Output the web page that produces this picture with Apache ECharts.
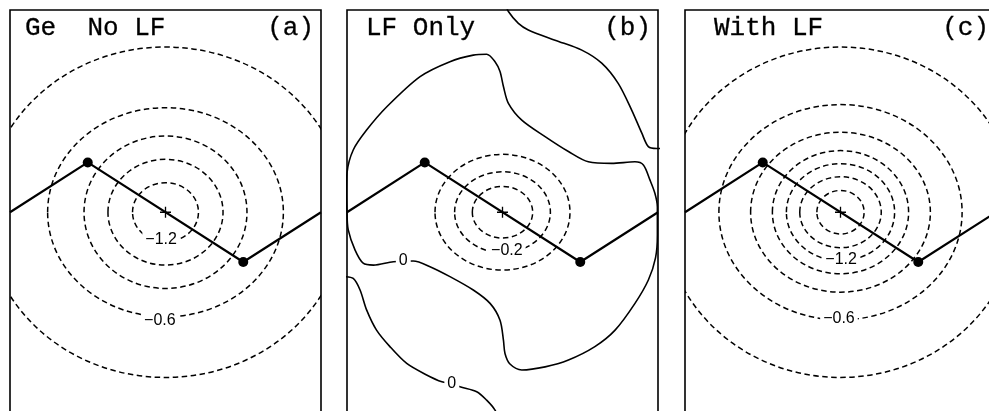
<!DOCTYPE html>
<html>
<head>
<meta charset="utf-8">
<script src="https://cdn.jsdelivr.net/npm/echarts@6/dist/echarts.min.js"></script>
<style>
  html, body { margin: 0; padding: 0; background: #fff; }
  #chart { width: 989px; height: 411px; }
</style>
</head>
<body>
<div id="chart"></div>
<script>
// titles of the three panels
const panelNames = ['Ge  No LF', 'LF Only', 'With LF'];
const panelTags = ['(a)', '(b)', '(c)'];

// fault trace, same in every panel, and the two stations on it
const traceX = [-5, -2.5, 2.5, 5];
const traceY = [0, 1.6, -1.6, 0];
const stationX = [-2.5, 2.5];
const stationY = [1.6, -1.6];

// (a) Ge, no LF : dashed contours (level, semi-axes)
const levelsA = [-0.4, -0.6, -0.8, -1.0, -1.2];
const rxA = [5.79, 3.79, 2.62, 1.85, 1.06];
const ryA = [5.31, 3.36, 2.45, 1.70, 0.95];
const labelsA = ['−1.2', '−0.6'];
const labelXA = [-0.14, -0.18];
const labelYA = [-0.89, -3.47];

// (b) LF only : dashed contours
const levelsB = [-0.1, -0.2, -0.3];
const rxB = [2.17, 1.54, 0.97];
const ryB = [1.86, 1.30, 0.83];
const labelsB = ['−0.2', '0', '0'];
const labelXB = [0.14, -3.19, -1.63];
const labelYB = [-1.22, -1.54, -5.50];

// (b) zero contour, closed loop
const zeroLoopB = [
  [-5.0, 0], [-4.96, -0.57], [-4.74, -1.22], [-4.48, -1.64], [-4.15, -1.70],
  [-3.51, -1.59], [-2.87, -1.57], [-2.33, -1.75], [-1.69, -2.07], [-0.94, -2.50],
  [-0.40, -2.93], [-0.08, -3.47], [0.03, -4.11], [0.08, -4.54], [0.24, -4.88],
  [0.62, -5.07], [1.37, -4.97], [2.12, -4.75], [2.97, -4.32], [3.62, -3.79],
  [4.26, -2.93], [4.69, -2.18], [4.92, -1.47], [4.98, -0.73], [4.98, 0.17],
  [4.90, 0.61], [4.74, 1.04], [4.53, 1.52], [4.26, 1.62], [3.51, 1.57],
  [2.76, 1.62], [2.12, 1.95], [1.37, 2.43], [0.62, 2.96], [0.19, 3.50],
  [0.03, 4.04], [-0.08, 4.52], [-0.24, 4.84], [-0.51, 5.08], [-0.94, 5.05],
  [-1.69, 4.84], [-2.65, 4.36], [-3.72, 3.39], [-4.37, 2.64], [-4.80, 2.00],
  [-5.0, 1.26], [-5.02, 0.55], [-5.0, 0]
];
// (b) zero contour, upper right corner
const zeroTopB = [
  [0.10, 6.7], [0.19, 6.45], [0.51, 6.07], [0.83, 5.86], [1.69, 5.53],
  [2.55, 5.21], [3.19, 4.79], [3.72, 4.14], [4.15, 3.29], [4.48, 2.54],
  [4.69, 2.11], [4.96, 2.05], [5.10, 2.05]
];
// (b) zero contour, lower left
const zeroBottomB = [
  [-5.10, -2.07], [-4.80, -2.13], [-4.58, -2.50], [-4.37, -3.14], [-4.05, -3.79],
  [-3.62, -4.32], [-3.08, -4.86], [-2.44, -5.23], [-1.95, -5.45], [-1.63, -5.50],
  [-1.37, -5.61], [-0.83, -5.77], [-0.51, -6.04], [-0.24, -6.36], [-0.05, -6.8]
];

// (c) with LF : dashed contours
const levelsC = [-0.4, -0.6, -0.8, -1.0, -1.2, -1.4, -1.6];
const rxC = [5.69, 3.91, 2.89, 2.19, 1.74, 1.31, 0.76];
const ryC = [5.31, 3.46, 2.57, 1.98, 1.56, 1.14, 0.70];
const labelsC = ['−1.2', '−0.6'];
const labelXC = [0.02, -0.05];
const labelYC = [-1.51, -3.41];

const panels = [
  { levels: levelsA, rx: rxA, ry: ryA, labels: labelsA, lx: labelXA, ly: labelYA },
  { levels: levelsB, rx: rxB, ry: ryB, labels: labelsB, lx: labelXB, ly: labelYB },
  { levels: levelsC, rx: rxC, ry: ryC, labels: labelsC, lx: labelXC, ly: labelYC }
];
const gridLeft = [10, 347, 685];

var myChart = echarts.init(document.getElementById('chart'));

function clipOf(params) {
  const cs = params.coordSys;
  return { type: 'rect', shape: { x: cs.x, y: cs.y, width: cs.width, height: cs.height } };
}

let grids = [], xAxes = [], yAxes = [], series = [], graphics = [];

panels.forEach(function (p, i) {
  // frame runs past the bottom edge of the picture, like the scan
  grids.push({
    left: gridLeft[i], top: 10, width: 311, height: 420,
    outerBoundsMode: 'none',
    show: true, borderColor: '#000', borderWidth: 1.6, backgroundColor: 'transparent'
  });
  xAxes.push({ gridIndex: i, type: 'value', min: -5, max: 5, show: false });
  yAxes.push({ gridIndex: i, type: 'value', min: -7, max: 6.5, show: false });

  // dashed contours
  series.push({
    type: 'custom',
    xAxisIndex: i, yAxisIndex: i,
    clip: true,
    z: 2,
    data: p.levels.map(function (v, k) { return [0, 0, p.rx[k], p.ry[k], v]; }),
    renderItem: function (params, api) {
      const c = api.coord([api.value(0), api.value(1)]);
      const s = api.size([api.value(2), api.value(3)]);
      return {
        type: 'ellipse',
        shape: { cx: c[0], cy: c[1], rx: s[0], ry: s[1] },
        clipPath: clipOf(params),
        style: { fill: 'none', stroke: '#000', lineWidth: 1.5, lineDash: [5.5, 3.5] }
      };
    }
  });

  // fault trace
  series.push({
    type: 'line',
    xAxisIndex: i, yAxisIndex: i,
    z: 3,
    symbol: 'none',
    lineStyle: { color: '#000', width: 2.2 },
    data: traceX.map(function (x, k) { return [x, traceY[k]]; })
  });

  // stations
  series.push({
    type: 'scatter',
    xAxisIndex: i, yAxisIndex: i,
    z: 4,
    symbolSize: 10,
    itemStyle: { color: '#000', opacity: 1 },
    data: stationX.map(function (x, k) { return [x, stationY[k]]; })
  });

  // centre mark
  series.push({
    type: 'scatter',
    xAxisIndex: i, yAxisIndex: i,
    z: 4,
    symbol: 'path://M0,4.4H10V5.6H0Z M4.4,0H5.6V10H4.4Z',
    symbolSize: 11,
    itemStyle: { color: '#000', opacity: 1 },
    data: [[0, 0]]
  });

  // contour labels
  series.push({
    type: 'custom',
    xAxisIndex: i, yAxisIndex: i,
    z: 6,
    data: p.labels.map(function (t, k) { return [p.lx[k], p.ly[k], t]; }),
    renderItem: function (params, api) {
      const c = api.coord([api.value(0), api.value(1)]);
      return {
        type: 'text',
        x: c[0], y: c[1],
        style: {
          text: p.labels[params.dataIndex],
          font: '16px "Liberation Sans", Arial, sans-serif',
          fill: '#000',
          align: 'center', verticalAlign: 'middle',
          textAlign: 'center', textVerticalAlign: 'middle',
          backgroundColor: '#fff',
          padding: [0, 3]
        }
      };
    }
  });

  // panel titles, a thin stroke thickens the typewriter face a little
  graphics.push({
    type: 'text', x: gridLeft[i] + (i === 2 ? 29 : i === 1 ? 19 : 15), y: 28.5, z: 10,
    style: {
      text: panelNames[i], fill: '#000', stroke: '#000', lineWidth: 0.3,
      font: '26px "Liberation Mono", monospace',
      verticalAlign: 'middle', textVerticalAlign: 'middle'
    }
  });
  graphics.push({
    type: 'text', x: gridLeft[i] + 304, y: 28.5, z: 10,
    style: {
      text: panelTags[i], fill: '#000', stroke: '#000', lineWidth: 0.3,
      font: '26px "Liberation Mono", monospace',
      align: 'right', textAlign: 'right',
      verticalAlign: 'middle', textVerticalAlign: 'middle'
    }
  });
});

// zero contours of panel (b)
[zeroLoopB, zeroTopB, zeroBottomB].forEach(function (d) {
  series.push({
    type: 'line',
    xAxisIndex: 1, yAxisIndex: 1,
    z: 3,
    symbol: 'none',
    smooth: 0.3,
    lineStyle: { color: '#000', width: 1.6 },
    data: d
  });
});

let options = {
  animation: false,
  backgroundColor: '#fff',
  grid: grids,
  xAxis: xAxes,
  yAxis: yAxes,
  graphic: graphics,
  series: series
};
myChart.setOption(options);
window.addEventListener('resize', function () {
  myChart.resize();
});
</script>
</body>
</html>
